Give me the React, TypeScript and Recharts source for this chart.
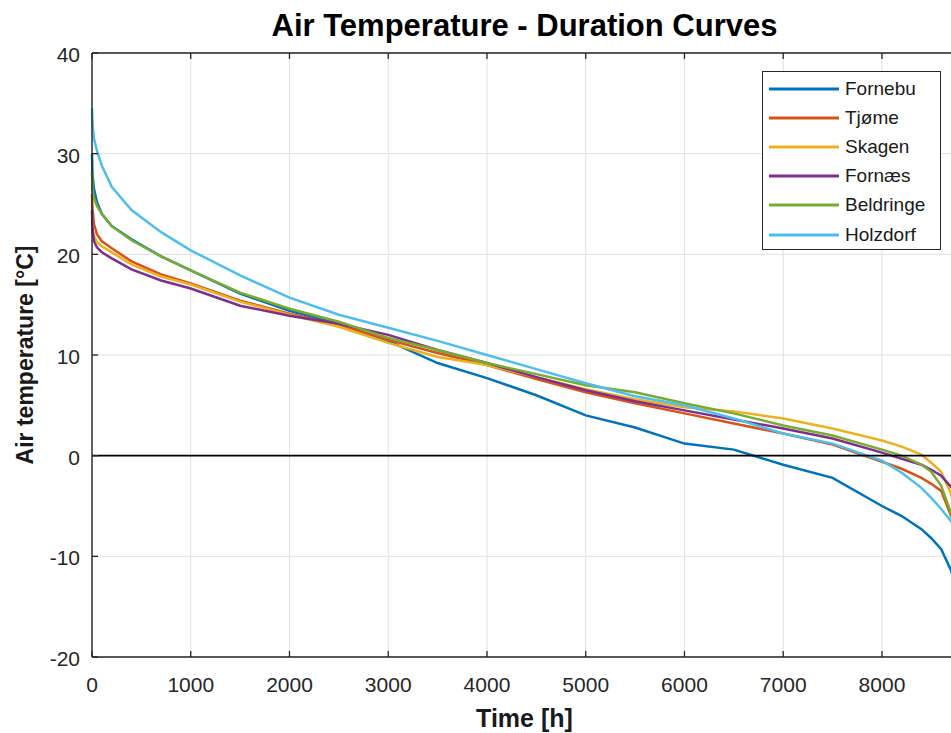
import {
  LineChart,
  Line,
  XAxis,
  YAxis,
  CartesianGrid,
  ReferenceLine,
  Legend,
} from "recharts";

const hours = [
  0, 5, 20, 50, 100, 200, 400, 700, 1000, 1500, 2000, 2500, 3000, 3500, 4000,
  4500, 5000, 5500, 6000, 6500, 7000, 7500, 8000, 8200, 8400, 8500, 8600, 8700,
  8760,
];

const fornebu = [
  30, 28, 26.5, 25.2, 24, 22.8, 21.5, 19.8, 18.4, 16.1, 14.4, 13.1, 11.4, 9.2,
  7.7, 6.0, 4.0, 2.8, 1.2, 0.6, -0.9, -2.2, -5.0, -6.0, -7.3, -8.2, -9.3,
  -11.4, -13.5,
];
const tjome = [
  26, 24.5, 23, 22, 21.3, 20.6, 19.3, 18, 17.1, 15.4, 14.1, 13.0, 11.5, 10.2,
  9.0, 7.6, 6.3, 5.2, 4.2, 3.2, 2.2, 1.1, -0.6, -1.3, -2.2, -2.8, -3.5, -6.0,
  -7.5,
];
const skagen = [
  23.5, 22.5, 21.8, 21.2, 20.8, 20.2, 19.0, 17.8, 17.0, 15.3, 14.0, 12.8, 11.2,
  9.8, 9.0, 7.8, 6.6, 5.6, 4.8, 4.4, 3.7, 2.7, 1.5, 0.9, 0.1, -0.7, -1.6, -3.8,
  -6,
];
const fornaes = [
  24.4, 22.5, 21.3, 20.7, 20.2, 19.6, 18.5, 17.4, 16.6, 14.9, 13.9, 13.1, 12.0,
  10.5, 9.2, 7.8, 6.5, 5.4, 4.5, 3.6, 2.7, 1.7, 0.3, -0.3, -0.9, -1.4, -2.0,
  -3.1, -4,
];
const beldringe = [
  28.2, 26.5, 25.6, 24.8, 24, 22.8, 21.4, 19.8, 18.4, 16.2, 14.6, 13.3, 11.7,
  10.5, 9.2, 8.1, 7.0, 6.3, 5.2, 4.2, 3.0, 2.0, 0.6, 0.0, -0.9, -1.6, -3.0,
  -5.7, -7,
];
const holzdorf = [
  34.5, 33, 31.5, 30.3, 28.8, 26.7, 24.4, 22.2, 20.4, 17.9, 15.7, 14.0, 12.7,
  11.4, 10.0, 8.6, 7.2, 5.9, 5.0, 3.7, 2.2, 1.2, -0.5, -1.7, -3.2, -4.2, -5.3,
  -6.5, -7.8,
];

const xTicks = [0, 1000, 2000, 3000, 4000, 5000, 6000, 7000, 8000];
const yTicks = [-20, -10, 0, 10, 20, 30, 40];

const series = [
  { key: "fornebu", name: "Fornebu", color: "#0072BD", values: fornebu },
  { key: "tjome", name: "Tjøme", color: "#D95319", values: tjome },
  { key: "skagen", name: "Skagen", color: "#EDB120", values: skagen },
  { key: "fornaes", name: "Fornæs", color: "#7E2F8E", values: fornaes },
  { key: "beldringe", name: "Beldringe", color: "#77AC30", values: beldringe },
  { key: "holzdorf", name: "Holzdorf", color: "#4DBEEE", values: holzdorf },
];

const data = hours.map((h, i) => {
  const row: Record<string, number> = { h };
  series.forEach((s) => (row[s.key] = s.values[i]));
  return row;
});

const font = "'Liberation Sans', Arial, Helvetica, sans-serif";
const axisColor = "#262626";

const BottomTick = ({ x, y, payload }: any) => (
  <g>
    <line x1={x} x2={x} y1={y} y2={y - 6} stroke={axisColor} strokeWidth={1.3} />
    <text
      x={x}
      y={y + 35}
      textAnchor="middle"
      fontSize={21}
      fontFamily={font}
      fill={axisColor}
    >
      {payload.value}
    </text>
  </g>
);

const TopTick = ({ x, y }: any) => (
  <line x1={x} x2={x} y1={y} y2={y + 6} stroke={axisColor} strokeWidth={1.3} />
);

const LeftTick = ({ x, y, payload }: any) => (
  <g>
    <line x1={x} x2={x + 6} y1={y} y2={y} stroke={axisColor} strokeWidth={1.3} />
    <text
      x={x - 12}
      y={y + 9}
      textAnchor="end"
      fontSize={21}
      fontFamily={font}
      fill={axisColor}
    >
      {payload.value}
    </text>
  </g>
);

// keep the legend in plotting order, not alphabetical
const LegendBox = ({ payload }: any) => {
  const items = [...(payload || [])].sort(
    (a: any, b: any) =>
      series.findIndex((s) => s.name === a.value) -
      series.findIndex((s) => s.name === b.value)
  );
  return (
    <div
      style={{
        boxSizing: "border-box",
        width: 179,
        height: 179,
        border: `1.4px solid ${axisColor}`,
        background: "#fff",
        padding: "2px 0 0 6px",
        fontFamily: font,
      }}
    >
      {items.map((p: any) => (
        <div
          key={p.value}
          style={{ display: "flex", alignItems: "center", height: 29.2 }}
        >
          <svg width={70} height={4} style={{ marginRight: 6 }}>
            <line x1={0} x2={70} y1={2} y2={2} stroke={p.color} strokeWidth={3} />
          </svg>
          <span style={{ fontSize: 19, color: "#1a1a1a" }}>{p.value}</span>
        </div>
      ))}
    </div>
  );
};

export default function App() {
  return (
    <div
      style={{
        position: "absolute",
        left: 0,
        top: 0,
        width: 951,
        height: 733,
        overflow: "hidden",
        background: "#fff",
      }}
    >
      <div
        style={{
          position: "absolute",
          left: 92,
          width: 865,
          top: 10,
          textAlign: "center",
          fontFamily: font,
          fontWeight: "bold",
          fontSize: 31,
          lineHeight: "31px",
          color: "#000",
        }}
      >
        Air Temperature - Duration Curves
      </div>
      <LineChart
        width={980}
        height={733}
        data={data}
        margin={{ top: 52, right: 23, bottom: 0, left: 0 }}
      >
        <CartesianGrid stroke="#e0e0e0" strokeWidth={1} />
        <XAxis
          dataKey="h"
          type="number"
          domain={[0, 8760]}
          ticks={xTicks}
          tickLine={false}
          tickSize={0}
          tickMargin={0}
          height={76}
          axisLine={{ stroke: axisColor, strokeWidth: 1.4 }}
          tick={<BottomTick />}
          label={{
            value: "Time [h]",
            position: "insideBottom",
            offset: 6,
            style: {
              fontFamily: font,
              fontWeight: "bold",
              fontSize: 25,
              fill: "#1a1a1a",
            },
          }}
        />
        <XAxis
          xAxisId="top"
          orientation="top"
          type="number"
          dataKey="h"
          domain={[0, 8760]}
          ticks={xTicks}
          tickLine={false}
          tickSize={0}
          tickMargin={0}
          height={1}
          axisLine={{ stroke: axisColor, strokeWidth: 1.4 }}
          tick={<TopTick />}
        />
        <YAxis
          type="number"
          domain={[-20, 40]}
          ticks={yTicks}
          width={92}
          tickLine={false}
          tickSize={0}
          tickMargin={0}
          axisLine={{ stroke: axisColor, strokeWidth: 1.4 }}
          tick={<LeftTick />}
          label={{
            value: "Air temperature [°C]",
            angle: -90,
            position: "insideLeft",
            offset: 25,
            style: {
              textAnchor: "middle",
              fontFamily: font,
              fontWeight: "bold",
              fontSize: 23,
              fill: "#1a1a1a",
            },
          }}
        />
        {series.map((s) => (
          <Line
            key={s.key}
            dataKey={s.key}
            name={s.name}
            stroke={s.color}
            strokeWidth={2.5}
            dot={false}
            type="linear"
            isAnimationActive={false}
          />
        ))}
        <ReferenceLine y={0} stroke="#000" strokeWidth={1.6} />
        <Legend
          layout="vertical"
          align="center"
          verticalAlign="middle"
          content={<LegendBox />}
          wrapperStyle={{ left: 762, top: 71, width: 179, height: 179 }}
        />
      </LineChart>
    </div>
  );
}
